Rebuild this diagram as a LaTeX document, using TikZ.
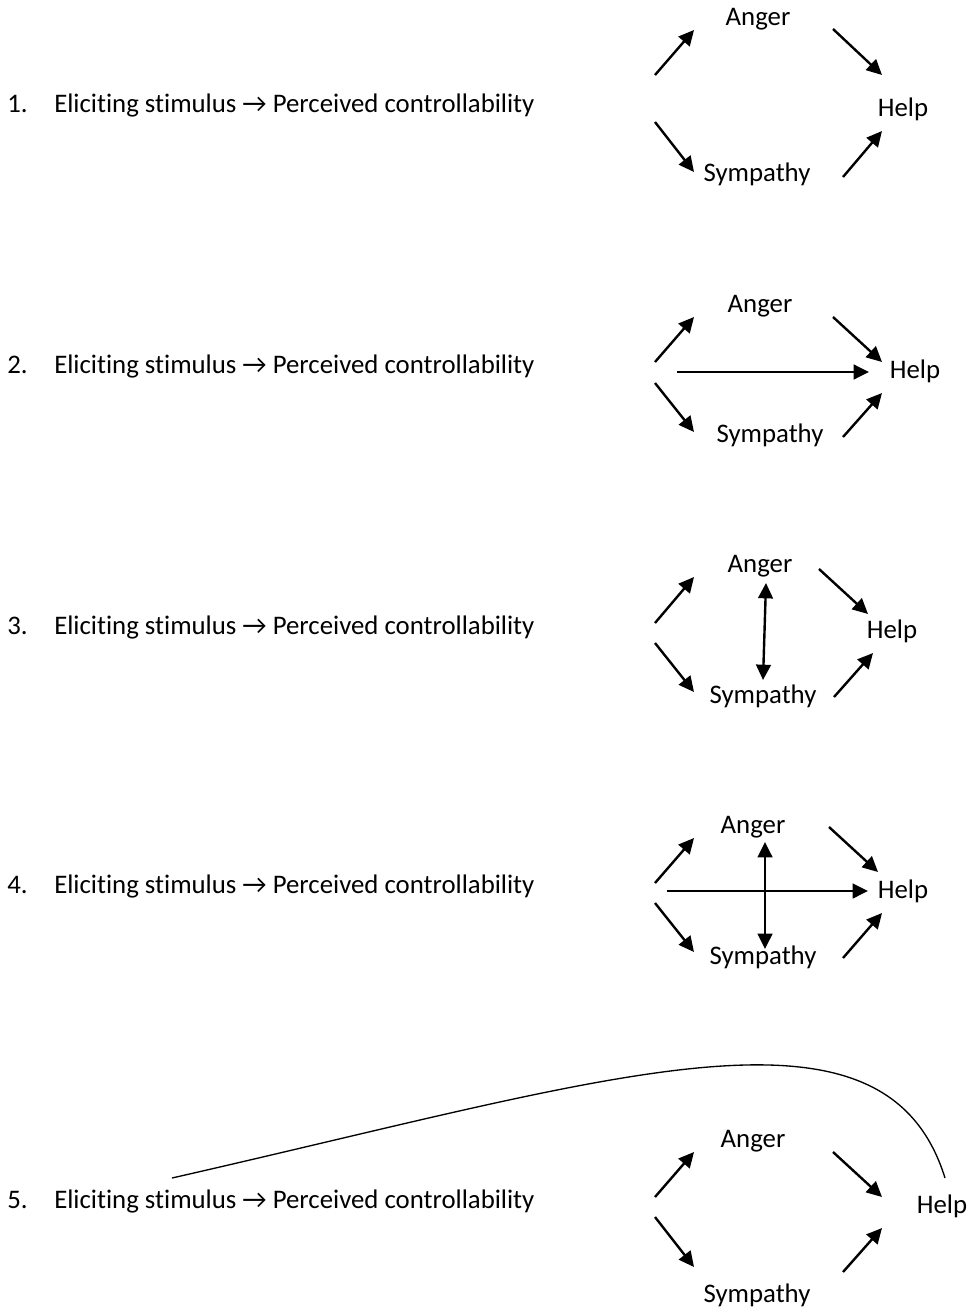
\documentclass[tikz,border=0pt]{standalone}
\usepackage{fontspec}
\setmainfont{Carlito}[Ligatures=CommonOff]
\usetikzlibrary{arrows.meta}

\tikzset{
  word/.style={anchor=base, inner sep=0pt, font=\fontsize{20.1}{24}\selectfont},
  item/.style={word, anchor=base west},
  link/.style={line width=1.8pt, -{Triangle[length=11.5pt,width=11pt]}},
  mutual/.style={line width=1.8pt, {Triangle[length=11.5pt,width=11pt]}-{Triangle[length=11.5pt,width=11pt]}},
}

\begin{document}
\begin{tikzpicture}[x=0.75pt,y=-0.75pt]
    \useasboundingbox (0,0) rectangle (971,1312);

    % 1.
    \node[item] (num1)  at (7,113)  {1.};
    \node[item] (stmt1) at (54,113) {Eliciting stimulus → Perceived controllability};
    \node[word] (anger1) at (758,26)  {Anger};
    \node[word] (help1)  at (903,117) {Help};
    \node[word] (symp1)  at (757,182) {Sympathy};
    \coordinate (up1a) at (655,75);   \coordinate (up1b) at (694,30);
    \coordinate (dn1a) at (655,122);  \coordinate (dn1b) at (694,172);
    \coordinate (ah1a) at (833,29);   \coordinate (ah1b) at (882,75);
    \coordinate (sh1a) at (843,177);  \coordinate (sh1b) at (882,131);
    \draw[link] (up1a) -- (up1b);
    \draw[link] (dn1a) -- (dn1b);
    \draw[link] (ah1a) -- (ah1b);
    \draw[link] (sh1a) -- (sh1b);

    % 2.
    \node[item] (num2)  at (7,373)  {2.};
    \node[item] (stmt2) at (54,373) {Eliciting stimulus → Perceived controllability};
    \node[word] (anger2) at (760,312) {Anger};
    \node[word] (help2)  at (915,378) {Help};
    \node[word] (symp2)  at (770,442) {Sympathy};
    \coordinate (up2a) at (655,362);  \coordinate (up2b) at (694,317);
    \coordinate (dn2a) at (655,383);  \coordinate (dn2b) at (694,432);
    \coordinate (ah2a) at (833,317);  \coordinate (ah2b) at (882,362);
    \coordinate (sh2a) at (843,437);  \coordinate (sh2b) at (882,393);
    \coordinate (hz2a) at (677,372);  \coordinate (hz2b) at (869,372);
    \draw[link] (up2a) -- (up2b);
    \draw[link] (dn2a) -- (dn2b);
    \draw[link] (ah2a) -- (ah2b);
    \draw[link] (sh2a) -- (sh2b);
    \draw[link] (hz2a) -- (hz2b);

    % 3.
    \node[item] (num3)  at (7,634)  {3.};
    \node[item] (stmt3) at (54,634) {Eliciting stimulus → Perceived controllability};
    \node[word] (anger3) at (760,572) {Anger};
    \node[word] (help3)  at (892,638) {Help};
    \node[word] (symp3)  at (763,703) {Sympathy};
    \coordinate (up3a) at (655,623);  \coordinate (up3b) at (694,577);
    \coordinate (dn3a) at (655,643);  \coordinate (dn3b) at (694,692);
    \coordinate (ah3a) at (819,569);  \coordinate (ah3b) at (868,614);
    \coordinate (sh3a) at (834,697);  \coordinate (sh3b) at (873,653);
    \coordinate (vt3a) at (766,583);  \coordinate (vt3b) at (763,680);
    \draw[link] (up3a) -- (up3b);
    \draw[link] (dn3a) -- (dn3b);
    \draw[link] (ah3a) -- (ah3b);
    \draw[link] (sh3a) -- (sh3b);
    \draw[mutual] (vt3a) -- (vt3b);

    % 4.
    \node[item] (num4)  at (7,893)  {4.};
    \node[item] (stmt4) at (54,893) {Eliciting stimulus → Perceived controllability};
    \node[word] (anger4) at (753,833) {Anger};
    \node[word] (help4)  at (903,898) {Help};
    \node[word] (symp4)  at (763,964) {Sympathy};
    \coordinate (up4a) at (655,883);  \coordinate (up4b) at (694,838);
    \coordinate (dn4a) at (655,903);  \coordinate (dn4b) at (694,952);
    \coordinate (ah4a) at (829,827);  \coordinate (ah4b) at (878,872);
    \coordinate (sh4a) at (843,958);  \coordinate (sh4b) at (882,913);
    \coordinate (hz4a) at (667,891);  \coordinate (hz4b) at (868,891);
    \coordinate (vt4a) at (765,842);  \coordinate (vt4b) at (765,949);
    \draw[link] (up4a) -- (up4b);
    \draw[link] (dn4a) -- (dn4b);
    \draw[link] (ah4a) -- (ah4b);
    \draw[link] (sh4a) -- (sh4b);
    \draw[link] (hz4a) -- (hz4b);
    \draw[mutual] (vt4a) -- (vt4b);

    % 5.
    \node[item] (num5)  at (7,1208)  {5.};
    \node[item] (stmt5) at (54,1208) {Eliciting stimulus → Perceived controllability};
    \node[word] (anger5) at (753,1147) {Anger};
    \node[word] (help5)  at (942,1213) {Help};
    \node[word] (symp5)  at (757,1302) {Sympathy};
    \coordinate (up5a) at (655,1197); \coordinate (up5b) at (694,1152);
    \coordinate (dn5a) at (655,1217); \coordinate (dn5b) at (694,1267);
    \coordinate (ah5a) at (833,1152); \coordinate (ah5b) at (882,1197);
    \coordinate (sh5a) at (843,1272); \coordinate (sh5b) at (882,1228);
    \coordinate (loop5a) at (172,1178);
    \coordinate (loop5b) at (945,1178);
    \draw[link] (up5a) -- (up5b);
    \draw[link] (dn5a) -- (dn5b);
    \draw[link] (ah5a) -- (ah5b);
    \draw[link] (sh5a) -- (sh5b);
    \draw[line width=1pt] (loop5a) .. controls (620,1076) and (885,985) .. (loop5b);
\end{tikzpicture}
\end{document}
